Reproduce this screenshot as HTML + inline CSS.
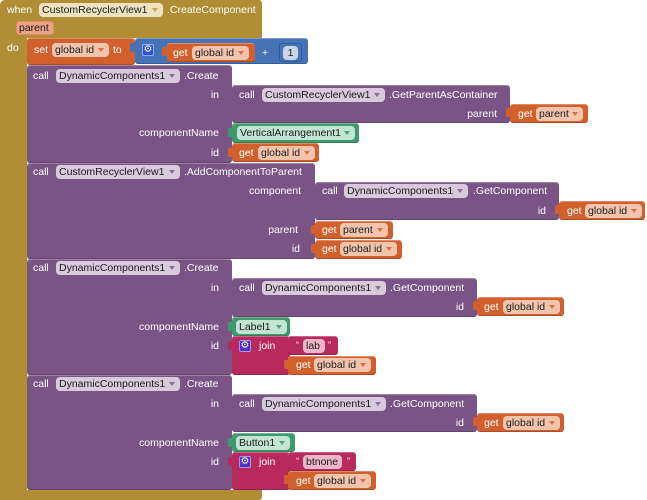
<!DOCTYPE html>
<html><head><meta charset="utf-8"><style>
*{margin:0;padding:0}
body{width:647px;height:500px;background:#fff;position:relative;overflow:hidden;font-family:"Liberation Sans",Arial,sans-serif;font-size:10.5px}
.r{position:absolute;box-sizing:border-box}
.blk{border-radius:3px;box-shadow:inset 0 1px 0 rgba(255,255,255,.28),inset 0 -1px 0 rgba(0,0,0,.18)}
.Y{background:#b18e35}.P{background:#7b5486}.O{background:#d2602c}.G{background:#3d9a6d}.M{background:#b8295d}.B{background:#4673b6}
.t{position:absolute;color:#fff;line-height:14px;height:14px;white-space:nowrap}
.rt{text-align:right}
.p{position:absolute;height:14px;line-height:14px;border-radius:4px;color:#1b1b1b;padding-left:3px;box-sizing:border-box;white-space:nowrap}
.p i{position:absolute;right:5px;top:5px;width:0;height:0;border-left:3px solid transparent;border-right:3px solid transparent;border-top:4px solid #999}
.pP{background:#d8c9dc}.pP i{border-top-color:#8e6b98}
.pO{background:#f2c4ad}.pO i{border-top-color:#d9714a}
.pG{background:#c4e4d3}.pG i{border-top-color:#4da57c}
.pY{background:#eee2bf}.pY i{border-top-color:#c3a452}
.pM{background:#ecb6c8}
.gear{position:absolute;width:12px;height:12px;border-radius:2px;color:#fff;font-family:"DejaVu Sans",sans-serif;font-size:10px;line-height:12px;text-align:center;box-shadow:inset 0 0 0 1px rgba(255,255,255,.5)}
.tab{position:absolute;width:5px;height:9px;border-radius:2px 0 0 2px}
.q{position:absolute;color:#fff;font-size:9px;line-height:14px}
</style></head><body>

<!-- gold event block -->
<div class="r Y" style="left:0;top:0;width:262px;height:38px;border-radius:5px 3px 0 0"></div>
<div class="r Y" style="left:0;top:0;width:27px;height:500px;border-radius:5px 0 0 0"></div>
<div class="r Y" style="left:0;top:490px;width:262px;height:10px;border-radius:0 0 3px 3px"></div>
<div class="t" style="left:7px;top:3px">when</div>
<div class="p pY" style="left:39px;top:3px;width:124px">CustomRecyclerView1<i></i></div>
<div class="t" style="left:167px;top:3px">.CreateComponent</div>
<div class="p" style="left:16px;top:21px;width:38px;background:#eca385;box-shadow:inset 0 0 0 1px #e08a66">parent</div>
<div class="t" style="left:7px;top:41px">do</div>

<!-- set global id -->
<div class="r O blk" style="left:27px;top:38px;width:108px;height:27px"></div>
<div class="t" style="left:34px;top:43px">set</div>
<div class="p pO" style="left:52px;top:43px;width:57px">global id<i></i></div>
<div class="t" style="left:113px;top:43px">to</div>
<div class="tab B" style="left:130px;top:43px"></div>
<div class="r B blk" style="left:135px;top:38px;width:173px;height:26px"></div>
<div class="gear" style="left:142px;top:44px;background:#2f52d6">⚙</div>
<div class="tab O" style="left:162px;top:47px"></div>
<div class="r O blk" style="left:167px;top:43px;width:88px;height:19px"></div>
<div class="t" style="left:173px;top:46px">get</div>
<div class="p pO" style="left:192px;top:46px;width:57px">global id<i></i></div>
<div class="t" style="left:262px;top:46px">+</div>
<div class="r B" style="left:279px;top:43px;width:23px;height:19px;border-radius:3px;box-shadow:inset 0 0 0 1px #2e5c9e"></div>
<div class="p" style="left:283px;top:46px;width:15px;background:#c9d6ea;text-align:center;padding:0">1</div>

<!-- block 1 -->
<div class="r P blk" style="left:27px;top:65px;width:205px;height:98px"></div>
<div class="t" style="left:33px;top:69px">call</div>
<div class="p pP" style="left:56px;top:69px;width:124px">DynamicComponents1<i></i></div>
<div class="t" style="left:184px;top:69px">.Create</div>
<div class="t rt" style="right:428px;top:88px">in</div>
<div class="t rt" style="right:428px;top:126px">componentName</div>
<div class="t rt" style="right:428px;top:146px">id</div>

<div class="r P blk" style="left:232px;top:85px;width:278px;height:38px"></div>
<div class="t" style="left:239px;top:88px">call</div>
<div class="p pP" style="left:262px;top:88px;width:123px">CustomRecyclerView1<i></i></div>
<div class="t" style="left:389px;top:88px">.GetParentAsContainer</div>
<div class="t rt" style="right:150px;top:107px">parent</div>
<div class="tab O" style="left:506px;top:108px"></div>
<div class="r O blk" style="left:510px;top:104px;width:78px;height:19px"></div>
<div class="t" style="left:518px;top:107px">get</div>
<div class="p pO" style="left:536px;top:107px;width:47px">parent<i></i></div>

<div class="tab G" style="left:228px;top:128px"></div>
<div class="r G blk" style="left:232px;top:123px;width:127px;height:20px"></div>
<div class="p pG" style="left:237px;top:126px;width:118px">VerticalArrangement1<i></i></div>

<div class="tab O" style="left:228px;top:148px"></div>
<div class="r O blk" style="left:232px;top:143px;width:87px;height:19px"></div>
<div class="t" style="left:239px;top:146px">get</div>
<div class="p pO" style="left:258px;top:146px;width:57px">global id<i></i></div>

<!-- block 2 -->
<div class="r P blk" style="left:27px;top:163px;width:288px;height:96px"></div>
<div class="t" style="left:33px;top:165px">call</div>
<div class="p pP" style="left:56px;top:165px;width:124px">CustomRecyclerView1<i></i></div>
<div class="t" style="left:184px;top:165px">.AddComponentToParent</div>
<div class="t rt" style="right:346px;top:184px">component</div>
<div class="t rt" style="right:349px;top:223px">parent</div>
<div class="t rt" style="right:347px;top:242px">id</div>

<div class="r P blk" style="left:315px;top:182px;width:244px;height:38px"></div>
<div class="t" style="left:322px;top:184px">call</div>
<div class="p pP" style="left:344px;top:184px;width:124px">DynamicComponents1<i></i></div>
<div class="t" style="left:473px;top:184px">.GetComponent</div>
<div class="t rt" style="right:101px;top:204px">id</div>
<div class="tab O" style="left:555px;top:205px"></div>
<div class="r O blk" style="left:559px;top:201px;width:86px;height:19px"></div>
<div class="t" style="left:567px;top:204px">get</div>
<div class="p pO" style="left:585px;top:204px;width:57px">global id<i></i></div>

<div class="tab O" style="left:311px;top:225px"></div>
<div class="r O blk" style="left:315px;top:221px;width:78px;height:18px"></div>
<div class="t" style="left:322px;top:223px">get</div>
<div class="p pO" style="left:340px;top:223px;width:48px">parent<i></i></div>

<div class="tab O" style="left:311px;top:244px"></div>
<div class="r O blk" style="left:315px;top:240px;width:87px;height:19px"></div>
<div class="t" style="left:322px;top:242px">get</div>
<div class="p pO" style="left:340px;top:242px;width:57px">global id<i></i></div>

<!-- block 3 -->
<div class="r P blk" style="left:27px;top:259px;width:205px;height:116px"></div>
<div class="t" style="left:33px;top:261px">call</div>
<div class="p pP" style="left:56px;top:261px;width:124px">DynamicComponents1<i></i></div>
<div class="t" style="left:184px;top:261px">.Create</div>
<div class="t rt" style="right:428px;top:281px">in</div>
<div class="t rt" style="right:428px;top:320px">componentName</div>
<div class="t rt" style="right:428px;top:339px">id</div>

<div class="r P blk" style="left:232px;top:278px;width:245px;height:39px"></div>
<div class="t" style="left:239px;top:281px">call</div>
<div class="p pP" style="left:262px;top:281px;width:124px">DynamicComponents1<i></i></div>
<div class="t" style="left:390px;top:281px">.GetComponent</div>
<div class="t rt" style="right:183px;top:300px">id</div>
<div class="tab O" style="left:473px;top:301px"></div>
<div class="r O blk" style="left:477px;top:297px;width:87px;height:19px"></div>
<div class="t" style="left:484px;top:300px">get</div>
<div class="p pO" style="left:503px;top:300px;width:57px">global id<i></i></div>

<div class="tab G" style="left:228px;top:322px"></div>
<div class="r G blk" style="left:232px;top:317px;width:58px;height:19px"></div>
<div class="p pG" style="left:236px;top:320px;width:51px">Label1<i></i></div>

<div class="tab M" style="left:228px;top:341px"></div>
<div class="r M blk" style="left:232px;top:336px;width:58px;height:39px"></div>
<div class="gear" style="left:239px;top:340px;background:#4b30c6">⚙</div>
<div class="t" style="left:259px;top:339px">join</div>
<div class="r M blk" style="left:288px;top:336px;width:50px;height:19px"></div>
<div class="q" style="left:296px;top:338px">“</div>
<div class="p pM" style="left:303px;top:339px;width:22px">lab</div>
<div class="q" style="left:328px;top:338px">”</div>
<div class="tab O" style="left:284px;top:360px"></div>
<div class="r O blk" style="left:288px;top:356px;width:88px;height:19px"></div>
<div class="t" style="left:296px;top:358px">get</div>
<div class="p pO" style="left:314px;top:358px;width:57px">global id<i></i></div>

<!-- block 4 -->
<div class="r P blk" style="left:27px;top:375px;width:205px;height:115px"></div>
<div class="t" style="left:33px;top:377px">call</div>
<div class="p pP" style="left:56px;top:377px;width:124px">DynamicComponents1<i></i></div>
<div class="t" style="left:184px;top:377px">.Create</div>
<div class="t rt" style="right:428px;top:397px">in</div>
<div class="t rt" style="right:428px;top:436px">componentName</div>
<div class="t rt" style="right:428px;top:455px">id</div>

<div class="r P blk" style="left:232px;top:394px;width:245px;height:38px"></div>
<div class="t" style="left:239px;top:397px">call</div>
<div class="p pP" style="left:262px;top:397px;width:124px">DynamicComponents1<i></i></div>
<div class="t" style="left:390px;top:397px">.GetComponent</div>
<div class="t rt" style="right:183px;top:416px">id</div>
<div class="tab O" style="left:473px;top:417px"></div>
<div class="r O blk" style="left:477px;top:413px;width:87px;height:19px"></div>
<div class="t" style="left:484px;top:416px">get</div>
<div class="p pO" style="left:503px;top:416px;width:57px">global id<i></i></div>

<div class="tab G" style="left:228px;top:438px"></div>
<div class="r G blk" style="left:232px;top:433px;width:63px;height:19px"></div>
<div class="p pG" style="left:236px;top:436px;width:54px">Button1<i></i></div>

<div class="tab M" style="left:228px;top:457px"></div>
<div class="r M blk" style="left:232px;top:452px;width:58px;height:38px"></div>
<div class="gear" style="left:239px;top:456px;background:#4b30c6">⚙</div>
<div class="t" style="left:259px;top:455px">join</div>
<div class="r M blk" style="left:288px;top:452px;width:68px;height:19px"></div>
<div class="q" style="left:296px;top:454px">“</div>
<div class="p pM" style="left:303px;top:455px;width:39px">btnone</div>
<div class="q" style="left:347px;top:454px">”</div>
<div class="tab O" style="left:284px;top:475px"></div>
<div class="r O blk" style="left:288px;top:471px;width:88px;height:19px"></div>
<div class="t" style="left:296px;top:474px">get</div>
<div class="p pO" style="left:314px;top:474px;width:57px">global id<i></i></div>

</body></html>
